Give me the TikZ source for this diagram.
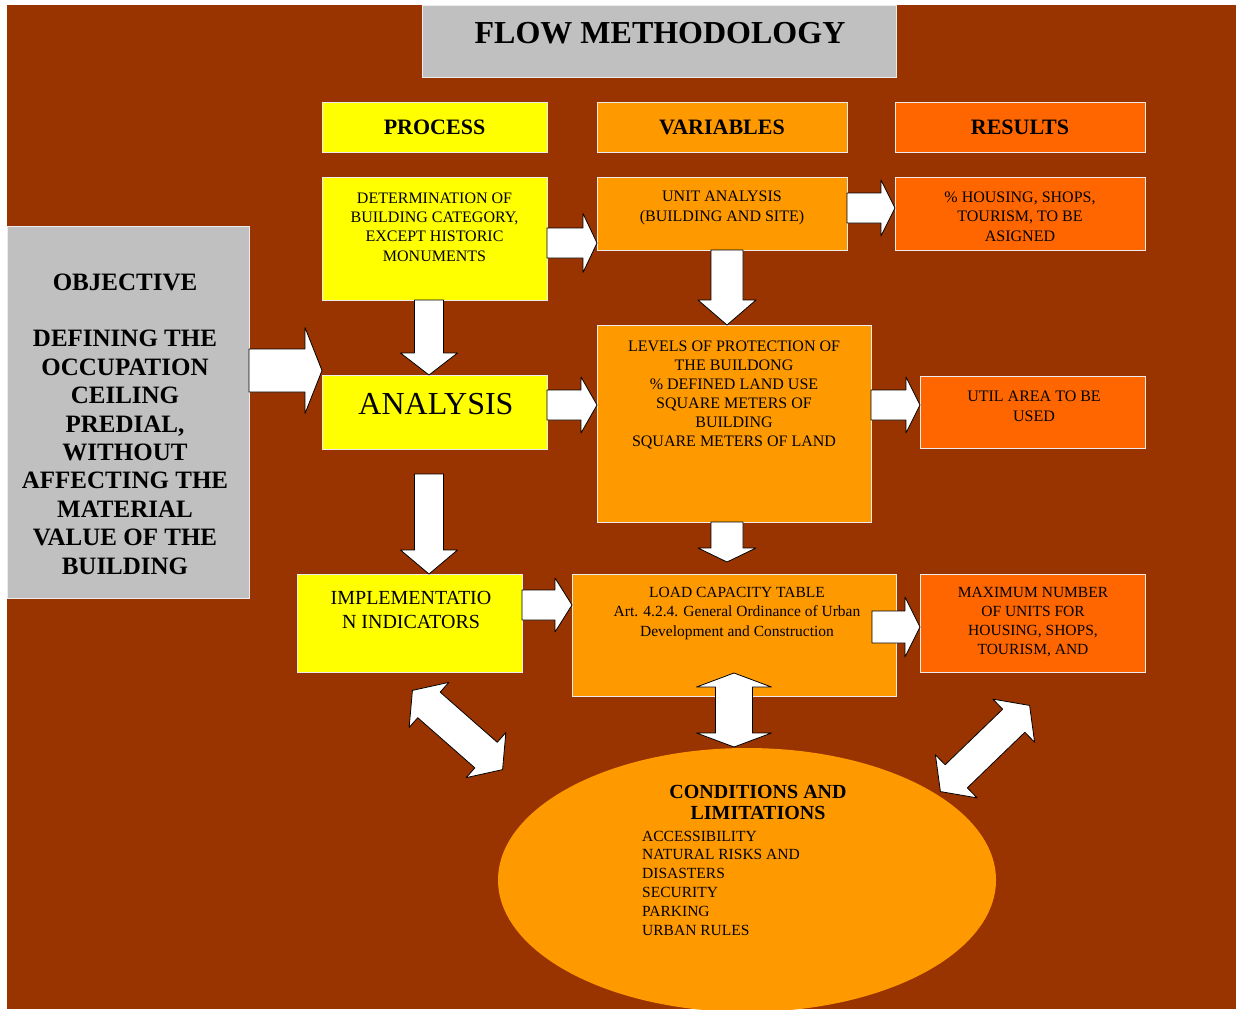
\documentclass[tikz,border=0pt]{standalone}
\usepackage{fontspec}
\setmainfont{Liberation Serif}
\usetikzlibrary{shapes.geometric,calc}
\definecolor{bg}{HTML}{993300}
\definecolor{yel}{HTML}{FFFF00}
\definecolor{org}{HTML}{FF9900}
\definecolor{redorg}{HTML}{FF6600}
\definecolor{gry}{HTML}{C0C0C0}
% single block arrow: x, y (tail centre), rotation, length, shaft half width, head half width, head length
\newcommand{\sarrow}[7]{%
  \begin{scope}[shift={(#1,#2)},rotate=#3]
    \draw[arrowshape] (0,-#5) -- ({#4-#7},-#5) -- ({#4-#7},-#6) -- (#4,0) -- ({#4-#7},#6) -- ({#4-#7},#5) -- (0,#5) -- cycle;
  \end{scope}}
% double block arrow: x, y (centre), rotation, half length, shaft half width, head half width, head length
\newcommand{\darrow}[7]{%
  \begin{scope}[shift={(#1,#2)},rotate=#3]
    \draw[arrowshape] ({-#4+#7},-#5) -- ({#4-#7},-#5) -- ({#4-#7},-#6) -- (#4,0) -- ({#4-#7},#6) -- ({#4-#7},#5)
      -- ({-#4+#7},#5) -- ({-#4+#7},#6) -- (-#4,0) -- ({-#4+#7},-#6) -- cycle;
  \end{scope}}
\begin{document}
\begin{tikzpicture}[x=1pt,y=-1pt,
  box/.style={rectangle, draw=white!85!gray, line width=1pt, inner sep=0pt},
  txt/.style={align=center, inner sep=0pt, text=black},
  small/.style={font=\fontsize{16}{19.3}\selectfont},
  head/.style={font=\bfseries\fontsize{22}{26}\selectfont},
  arrowshape/.style={fill=white, draw=black, line width=0.8pt, line join=round}]
\useasboundingbox (0,0) rectangle (1238,1009);
\clip (0,0) rectangle (1238,1009);
\fill[white] (0,0) rectangle (1238,1009);
\fill[bg] (7,5) rectangle (1236,1009);

% header boxes
\node[box, fill=gry, minimum width=474pt, minimum height=72pt] (title) at (659,41) {};
\node[txt, font=\bfseries\fontsize{32}{38}\selectfont] (titletxt) at (660,33) {FLOW METHODOLOGY};
\node[box, fill=yel, minimum width=225pt, minimum height=50pt] (process) at (434.5,127) {};
\node[txt, head] at (process.center) {PROCESS};
\node[box, fill=org, minimum width=250pt, minimum height=50pt] (variables) at (722,127) {};
\node[txt, head] at (variables.center) {VARIABLES};
\node[box, fill=redorg, minimum width=250pt, minimum height=50pt] (results) at (1020,127) {};
\node[txt, head] at (results.center) {RESULTS};

% row 1
\node[box, fill=yel, minimum width=225pt, minimum height=123pt] (det) at (434.5,238.5) {};
\node[txt, small] at (434.5,227) {DETERMINATION OF\\BUILDING CATEGORY,\\EXCEPT HISTORIC\\MONUMENTS};
\node[box, fill=org, minimum width=250pt, minimum height=73pt] (unit) at (722,213.5) {};
\node[txt, small] at (722,208) {UNIT ANALYSIS\\(BUILDING AND SITE)};
\node[box, fill=redorg, minimum width=250pt, minimum height=73pt] (hous) at (1020,213.5) {};
\node[txt, small] at (1020,216.5) {\% HOUSING, SHOPS,\\TOURISM, TO BE\\ASIGNED};

% objective
\node[box, fill=gry, minimum width=242pt, minimum height=372pt] (obj) at (128,412) {};
\node[txt, font=\bfseries\fontsize{25}{28.4}\selectfont] at (125,424) {OBJECTIVE\\[28.4pt]DEFINING THE\\OCCUPATION\\CEILING\\PREDIAL,\\WITHOUT\\AFFECTING THE\\MATERIAL\\VALUE OF THE\\BUILDING};

% row 2
\node[box, fill=yel, minimum width=225pt, minimum height=74pt] (analysis) at (434.5,412) {};
\node[txt, font=\fontsize{32}{38}\selectfont] at (436,404) {ANALYSIS};
\node[box, fill=org, minimum width=274pt, minimum height=197pt] (levels) at (734,423.5) {};
\node[txt, small, font=\fontsize{16}{19}\selectfont] at (734,394.5) {LEVELS OF PROTECTION OF\\THE BUILDONG\\\% DEFINED LAND USE\\SQUARE METERS OF\\BUILDING\\SQUARE METERS OF LAND};
\node[box, fill=redorg, minimum width=225pt, minimum height=72pt] (util) at (1032.5,412) {};
\node[txt, small, font=\fontsize{16}{20}\selectfont] at (1034,406) {UTIL AREA TO BE\\USED};

% row 3
\node[box, fill=yel, minimum width=225pt, minimum height=98pt] (impl) at (409.5,623) {};
\node[txt, font=\fontsize{20}{24}\selectfont] at (411,610) {IMPLEMENTATIO\\N INDICATORS};
\node[box, fill=org, minimum width=324pt, minimum height=122pt] (load) at (734,635) {};
\node[txt, font=\fontsize{15.5}{19.5}\selectfont] at (737,613.5) {LOAD CAPACITY TABLE\\Art. 4.2.4. General Ordinance of Urban\\Development and Construction};
\node[box, fill=redorg, minimum width=225pt, minimum height=98pt] (max) at (1032.5,623) {};
\node[txt, font=\fontsize{15.5}{19}\selectfont] at (1033,622.5) {MAXIMUM NUMBER\\OF UNITS FOR\\HOUSING, SHOPS,\\TOURISM, AND};

% conditions ellipse
\node[ellipse, fill=org, minimum width=498pt, minimum height=264pt, inner sep=0pt] (cond) at (747,880) {};
\node[txt, font=\bfseries\fontsize{20}{21}\selectfont] at (758,802.5) {CONDITIONS AND\\LIMITATIONS};
\node[txt, align=left, anchor=west, font=\fontsize{15.5}{18.8}\selectfont] at (642,883) {ACCESSIBILITY\\NATURAL RISKS AND\\DISASTERS\\SECURITY\\PARKING\\URBAN RULES};

% block arrows
\sarrow{249}{370.5}{0}{73}{21.5}{43}{17}
\sarrow{547}{243}{0}{50}{15}{29.5}{14}
\sarrow{847}{208}{0}{48}{15}{28}{14}
\sarrow{727}{250}{-90}{75}{16}{29}{25}
\sarrow{429}{300}{-90}{75}{14.5}{28.5}{22}
\sarrow{547}{405}{0}{50}{15}{28}{16}
\sarrow{871}{405}{0}{49}{15}{28}{14}
\sarrow{429}{474}{-90}{100}{14.5}{28.5}{24}
\sarrow{727}{522}{-90}{40}{16}{29}{14}
\sarrow{522}{605}{0}{50}{15}{27}{17}
\sarrow{872}{627}{0}{48}{16}{30}{15}
\darrow{734}{710}{90}{37}{18.5}{37.5}{14}
\darrow{457.5}{730}{-41.3}{60}{17}{30}{22}
\darrow{985}{748.5}{44}{62}{16}{30}{22}
\end{tikzpicture}
\end{document}
